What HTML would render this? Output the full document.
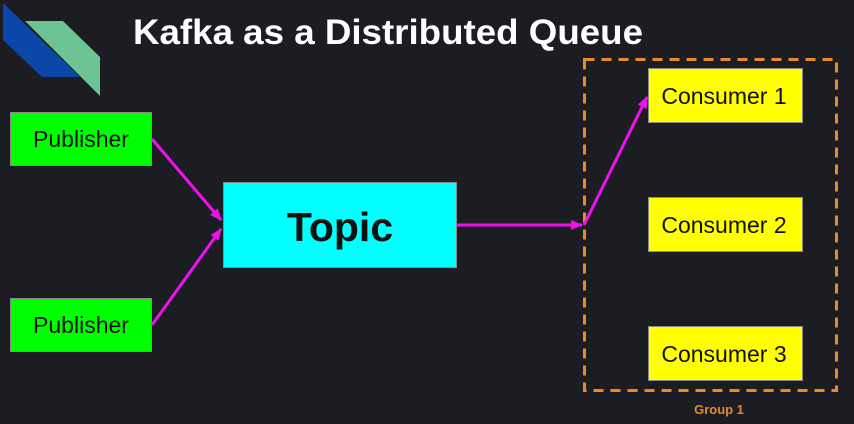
<!DOCTYPE html>
<html><head><style>
html,body{margin:0;padding:0;width:854px;height:424px;overflow:hidden;background:#1c1d23;}
</style></head><body>
<svg width="854" height="424" xmlns="http://www.w3.org/2000/svg" style="display:block">
<rect width="854" height="424" fill="#1c1d23"/>
<polygon points="3,3 80,77 42,77 3,40" fill="#0a47a9"/>
<polygon points="25,21 63,21 100,57 100,96" fill="#6cc494"/>
<text x="133" y="44" font-family="Liberation Sans, sans-serif" font-weight="bold" font-size="35" fill="#fff" textLength="510" lengthAdjust="spacingAndGlyphs">Kafka as a Distributed Queue</text>
<rect x="584.5" y="59.5" width="252" height="331" fill="none" stroke="#e8892a" stroke-width="3" stroke-dasharray="10,7"/>
<text x="719" y="414" text-anchor="middle" font-family="Liberation Sans, sans-serif" font-weight="bold" font-size="13" fill="#e8892a">Group 1</text>
<g stroke="#8a8a8a" stroke-width="1">
<rect x="10.5" y="112.5" width="141" height="53" fill="#00ff00"/>
<rect x="10.5" y="298.5" width="141" height="53" fill="#00ff00"/>
<rect x="223.5" y="182.5" width="233" height="85" fill="#00ffff"/>
<rect x="648.5" y="68.5" width="154" height="54" fill="#ffff00"/>
<rect x="648.5" y="197.5" width="154" height="54" fill="#ffff00"/>
<rect x="648.5" y="326.5" width="154" height="54" fill="#ffff00"/>
</g>
<g font-family="Liberation Sans, sans-serif" fill="#111" text-anchor="middle">
<text x="81" y="147" font-size="23">Publisher</text>
<text x="81" y="333" font-size="23">Publisher</text>
<text x="340" y="241" font-size="41" font-weight="bold">Topic</text>
<text x="724" y="104" font-size="23">Consumer 1</text>
<text x="724" y="233" font-size="23">Consumer 2</text>
<text x="724" y="362" font-size="23">Consumer 3</text>
</g>
<defs><marker id="a" markerWidth="12" markerHeight="10" refX="11" refY="5" orient="auto" markerUnits="userSpaceOnUse"><path d="M0,0 L12,5 L0,10 z" fill="#ee11ee"/></marker></defs>
<g stroke="#ee11ee" stroke-width="3" fill="none">
<line x1="152" y1="139" x2="221" y2="220" marker-end="url(#a)"/>
<line x1="152" y1="325" x2="221" y2="229" marker-end="url(#a)"/>
<line x1="457" y1="225" x2="582" y2="225" marker-end="url(#a)"/>
<line x1="584" y1="225" x2="647" y2="97" marker-end="url(#a)"/>
</g>
</svg>
</body></html>
